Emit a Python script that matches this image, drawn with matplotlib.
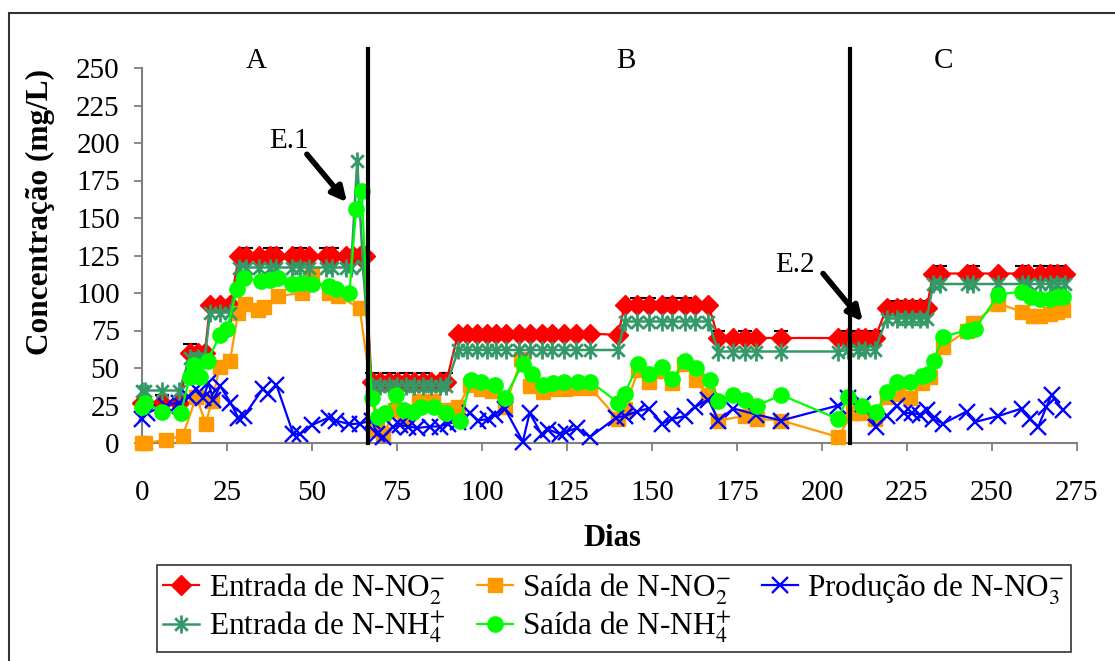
import numpy as np
import matplotlib
matplotlib.use("Agg")
import matplotlib.pyplot as plt
from matplotlib.path import Path
from matplotlib.patches import Rectangle

plt.rcParams['font.family'] = ['Liberation Serif', 'DejaVu Serif']
plt.rcParams['mathtext.fontset'] = 'stix'

# ---------------- data ----------------
red_days = [0, 1, 6, 11, 14, 16.5, 18.5, 20, 23, 26,
            28.5, 30.5, 34.5, 37.5, 39.5, 44, 46.5, 49, 54, 56, 60, 62, 64, 65.5,
            67.5, 70, 72.5, 75, 77.5, 80, 82.5, 85, 87.5, 89.5,
            93, 95.5, 98.5, 101.5, 104, 107, 111, 114, 117.5, 120.5, 124, 127.5, 131.8, 140,
            142, 145.5, 149, 153, 155.8, 159.8, 162.7, 166.6,
            169.5, 173.9, 177.3, 180.7, 188, 204.7, 207.6, 210.6, 212.5, 215.6,
            219, 222, 224.4, 226.4, 228.8, 230.8,
            232.7, 234.7, 242.5, 244.5, 251.9, 258.7, 260.7, 264.1, 267, 269, 271.5]
red_vals = [27, 27, 27, 27, 60, 60, 60, 92, 92, 92,
            125, 125, 125, 125, 125, 125, 125, 125, 125, 125, 125, 125, 125, 125,
            41, 41, 41, 41, 41, 41, 41, 41, 41, 41,
            73, 73, 73, 73, 73, 73, 73, 73, 73, 73, 73, 73, 73, 72,
            92, 92, 92, 92, 92, 92, 92, 92,
            70, 70, 70, 70, 70, 70, 70, 70, 70, 70,
            90, 90, 90, 90, 90, 90,
            113, 113, 113, 113, 113, 113, 113, 113, 113, 113, 113]
red_err = [0, 0, 5, 0, 6, 0, 0, 0, 0, 0,
           0, 5, 0, 5, 5, 0, 5, 0, 5, 5, 0, 0, 0, 0,
           6, 0, 6, 0, 6, 0, 6, 0, 0, 6,
           0, 0, 0, 0, 0, 0, 0, 0, 0, 0, 0, 0, 0, 0,
           0, 5, 5, 0, 5, 5, 0, 0,
           5, 0, 5, 0, 5, 0, 5, 5, 0, 5,
           0, 5, 5, 5, 5, 0,
           0, 5, 0, 5, 0, 5, 0, 5, 5, 5, 0]

star_days = [0, 1, 6, 11, 14, 16.5, 18.5, 20, 23, 26,
             28.5, 30.5, 34.5, 37.5, 39.5, 44, 46.5, 49, 54, 56, 60, 61.5, 63.3, 65,
             67.5, 70, 72.5, 75, 77.5, 80, 82.5, 85, 87.5, 89.5,
             93, 95.5, 98.5, 101.5, 104, 107, 111, 114, 117.5, 120.5, 124, 127.5, 131.8, 140,
             142, 145.5, 149, 153, 155.8, 159.8, 162.7, 166.6,
             169.5, 173.9, 177.3, 180.7, 188, 204.7, 207.6, 210.6, 212.5, 215.6,
             219, 222, 224.4, 226.4, 228.8, 230.8,
             232.7, 234.7, 242.5, 244.5, 251.9, 258.7, 260.7, 264.1, 267, 269, 271.5]
star_vals = [35, 35, 35, 35, 57, 57, 57, 87, 87, 87,
             117, 117, 117, 117, 117, 117, 117, 117, 117, 117, 117, 117, 188, 118,
             38, 38, 38, 38, 38, 38, 38, 38, 38, 38,
             62, 62, 62, 62, 62, 62, 62, 62, 62, 62, 62, 62, 62, 62,
             81, 81, 81, 81, 81, 81, 81, 81,
             61, 61, 61, 61, 61, 61, 62, 62, 62, 62,
             83, 83, 83, 83, 83, 83,
             106, 106, 106, 106, 106, 106, 106, 106, 106, 106, 106]

nh4_out_days = [0, 0.8, 6, 11.5, 14, 15.2, 17, 19.3, 23, 25, 28, 30, 35, 37.5, 40, 44, 47, 50,
                55, 57, 61, 63, 64.6, 67.5, 69.5, 71.6, 74.8, 77, 79.6, 82, 86, 89.5, 93.5,
                96.9, 99.8, 103.8, 106.7, 112, 114.6, 118, 121, 124, 128.3, 131.8, 140, 142,
                146, 149, 153, 156, 159.8, 163, 167, 169.5, 173.9, 177.3, 181, 188, 204.7,
                207.6, 211.7, 216, 219, 222, 226, 229.4, 231.3, 232.8, 235.7, 242.5, 245,
                251.9, 258.7, 261.5, 264, 267, 269, 271]
nh4_out_vals = [24, 27, 21, 20, 44, 52, 44, 55, 72, 76, 103, 110, 108, 109, 110, 106, 107, 106,
                105, 103, 100, 156, 168, 30, 17.5, 20, 32, 22, 21, 24, 24, 20, 15,
                42, 41, 39, 30, 53, 46, 39, 40, 41, 41, 41, 27, 33,
                53, 46, 51, 43, 55, 50, 42, 28, 32, 29, 25, 32, 16,
                31, 25, 21, 34, 41, 41, 45, 46, 55, 71, 75, 76,
                99, 101, 97.5, 96, 96, 97.5, 97.5]

no2_out_days = [0, 1, 7, 12, 16, 18.7, 20.6, 22.9, 25.9, 28.3, 30.3, 34, 36, 40, 47, 50, 55,
                57.6, 64, 69, 71, 74.5, 77, 81.6, 85.5, 89, 93, 96.5, 99.8, 103, 106.7, 111.6,
                114, 118, 121, 124.4, 128, 131.8, 140, 142, 146, 149, 153, 156, 159.5, 163,
                166.6, 169.5, 177.3, 181, 188, 204.7, 209, 211.7, 215.6, 219, 222.3, 226,
                229.4, 231.9, 235.7, 242.5, 244.5, 251.9, 258.7, 262, 264, 267, 269, 271]
no2_out_vals = [0, 0, 2, 5, 31, 13, 28, 51, 55, 87, 93, 89, 91, 98, 100, 112, 100,
                98, 90, 9, 6, 22, 16, 28, 28, 22, 24, 39, 36, 35, 24, 56,
                38, 34, 36, 36, 37, 37, 16, 23, 49, 41, 48, 40, 53, 42,
                32, 15, 18, 16, 15, 4, 20, 20, 16, 31, 33, 30,
                40, 44, 64, 75, 80, 93, 87.5, 85, 85, 86, 87.5, 89]

no3_days = [0, 1.5, 7, 11, 13.7, 16, 18, 19.5, 21, 23, 26, 28.3, 30, 35.5, 37, 39.5, 44.5,
            46.5, 50, 55, 57, 61, 64, 67.7, 69, 71, 73.9, 75.9, 78.3, 81, 84.7, 87.6, 90,
            93, 96.5, 98.9, 101.9, 103.8, 106.7, 112, 114, 117.5, 119.5, 122.9, 124.8,
            127.8, 131.8, 139.5, 142, 145.5, 149, 153, 155.8, 159.8, 162.7, 166.6, 169.5,
            173.9, 180.7, 188, 204.7, 207.6, 212, 216, 219, 222, 224, 226.4, 228.8, 230.8,
            232.7, 235.7, 242.5, 245, 251.9, 258.7, 261.2, 263.6, 266, 267.5, 270.8]
no3_vals = [16, 20, 25, 27, 31, 36, 30, 40, 29, 38, 27, 17, 18, 36, 33, 39, 6,
            6, 12, 17, 15, 12.5, 13, 15, 6, 4, 11, 12, 11, 10, 11, 11, 13,
            14, 20, 15, 16, 19, 23, 1, 20, 6, 9, 6, 7.5,
            10, 4, 17, 18, 21, 23, 13, 16, 18, 24, 29, 15,
            23, 19, 15, 25, 30, 26, 11, 18, 25, 20, 20, 19, 22,
            16, 13, 21, 14, 18, 23, 16, 11, 24, 32, 22]

xticks = [0, 25, 50, 75, 100, 125, 150, 175, 200, 225, 250, 275]
yticks = [0, 25, 50, 75, 100, 125, 150, 175, 200, 225, 250]
stage_lines = [66.5, 208.2]
stage_labels = ['A', 'B', 'C']
stage_label_x = [33.5, 142.4, 235.6]

# ---------------- figure ----------------
W, H = 1115, 661
fig = plt.figure(figsize=(W / 100, H / 100), dpi=100)
ax = fig.add_axes([142 / W, 218 / H, 935 / W, 375 / H])

# asterisk marker (Excel style star)
star_path = Path([(-0.7, -0.7), (0.7, 0.7), (-0.7, 0.7), (0.7, -0.7), (0, -1), (0, 1)],
                 [Path.MOVETO, Path.LINETO, Path.MOVETO, Path.LINETO, Path.MOVETO, Path.LINETO])

c_red = '#FF0000'
c_orange = '#FF9900'
c_blue = '#0000FF'
c_star = '#339966'
c_green = '#00FF00'

handles = []
# series 1: Entrada N-NO2
rd = np.array(red_days)
rv = np.array(red_vals)
re = np.array(red_err)
m = re > 0
ax.errorbar(rd[m], rv[m], yerr=[np.zeros(m.sum()), re[m]], fmt='none', ecolor='black',
            elinewidth=1.2, capsize=5, capthick=1.5, zorder=2, clip_on=False)
h, = ax.plot(red_days, red_vals, color=c_red, lw=1.6, marker='D', ms=10, mfc=c_red, mec=c_red,
             label='Entrada de N-NO$_2^{-}$', zorder=3, clip_on=False)
handles.append(h)
# series 2: Saida N-NO2
h, = ax.plot(no2_out_days, no2_out_vals, color=c_orange, lw=1.6, marker='s', ms=10.5,
             mfc=c_orange, mec=c_orange, label='Saída de N-NO$_2^{-}$', zorder=4, clip_on=False)
handles.append(h)
# series 3: Producao N-NO3
h, = ax.plot(no3_days, no3_vals, color=c_blue, lw=1.6, marker='x', ms=12, mew=1.7,
             label='Produção de N-NO$_3^{-}$', zorder=5, clip_on=False)
handles.append(h)
# series 4: Entrada N-NH4
h, = ax.plot(star_days, star_vals, color=c_star, lw=1.8, marker=star_path, ms=13, mew=2.0,
             mfc='none', mec=c_star, label='Entrada de N-NH$_4^{+}$', zorder=6, clip_on=False)
handles.append(h)
# series 5: Saida N-NH4
h, = ax.plot(nh4_out_days, nh4_out_vals, color=c_green, lw=1.6, marker='o', ms=11,
             mfc=c_green, mec=c_green, label='Saída de N-NH$_4^{+}$', zorder=7, clip_on=False)
handles.append(h)

# stage separators
for xl in stage_lines:
    ax.plot([xl, xl], [0, 263], color='black', lw=3, zorder=8, clip_on=False)
for lab, xl in zip(stage_labels, stage_label_x):
    ax.text(xl, 255, lab, ha='center', va='center', fontsize=21, clip_on=False)

# event annotations
ax.annotate('', xy=(60.3, 160.5), xytext=(48.5, 192.5),
            arrowprops=dict(arrowstyle='-|>', lw=4, color='black', mutation_scale=22,
                            shrinkA=0, shrinkB=0))
ax.text(43.2, 201, 'E.1', ha='center', va='center', fontsize=21)
ax.annotate('', xy=(212, 81), xytext=(200.3, 113),
            arrowprops=dict(arrowstyle='-|>', lw=4, color='black', mutation_scale=22,
                            shrinkA=0, shrinkB=0))
ax.text(192, 119, 'E.2', ha='center', va='center', fontsize=21)

# axes styling
ax.set_xlim(0, 275)
ax.set_ylim(0, 250)
ax.set_xticks(xticks)
ax.set_yticks(yticks)
for s in ['top', 'right']:
    ax.spines[s].set_visible(False)
for s in ['left', 'bottom']:
    ax.spines[s].set_color('#808080')
    ax.spines[s].set_linewidth(1.5)
ax.tick_params(axis='both', direction='out', length=6, width=1.3, color='#808080',
               labelsize=21)
ax.tick_params(axis='x', pad=21)
ax.tick_params(axis='y', pad=10)

fig.text(40 / W, 1 - 212 / H, 'Concentração (mg/L)', rotation=90, ha='center', va='center',
         fontsize=22.5, fontweight='bold')
fig.text(612 / W, 1 - 538 / H, 'Dias', ha='center', va='center', fontsize=22,
         fontweight='bold')

# legend filled row by row: reorder for matplotlib's column-major filling
order = [0, 3, 1, 4, 2]
leg = fig.legend([handles[i] for i in order], [handles[i].get_label() for i in order],
                 loc='upper left', bbox_to_anchor=(157 / W, 1 - 565 / H), ncol=3,
                 fontsize=22.5, frameon=True, fancybox=False, edgecolor='black',
                 handlelength=1.15, handletextpad=0.3, columnspacing=1.0,
                 borderpad=0.2, labelspacing=0.1, borderaxespad=0)
leg.get_frame().set_linewidth(1.2)

# outer frame
fig.add_artist(Rectangle((9 / W, -0.05), 1.2, 1.05 - 13 / H, transform=fig.transFigure,
                         fill=False, edgecolor='#333333', lw=1.5))

fig.savefig('out.png', dpi=100)
